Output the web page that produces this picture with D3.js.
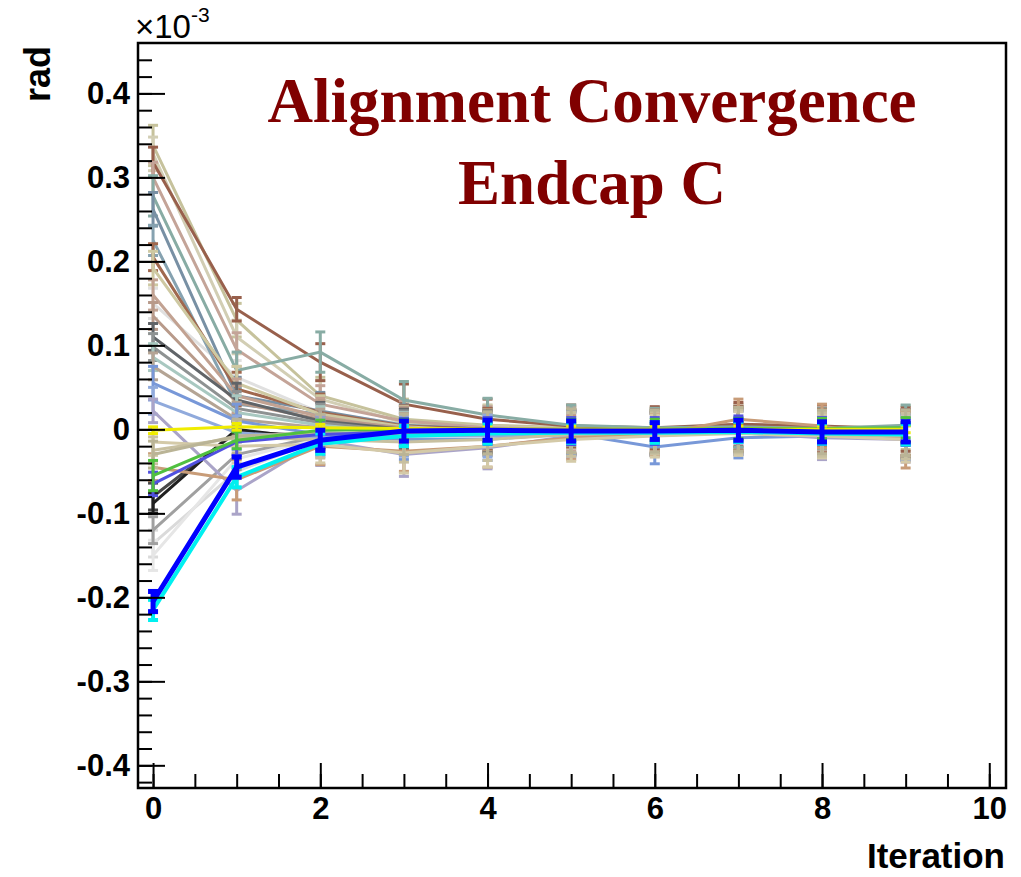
<!DOCTYPE html>
<html lang="en">
<head>
<meta charset="utf-8">
<title>Alignment Convergence Endcap C</title>
<script src="https://d3js.org/d3.v7.min.js"></script>
<style>
  body { margin: 0; background: #fff; }
  svg { display: block; }
</style>
</head>
<body>
<script>
// iterations on the x axis
var iterations = [0, 1, 2, 3, 4, 5, 6, 7, 8, 9];

// tick labels
var xMajorTicks = [0, 2, 4, 6, 8, 10];
var yMajorTicks = [-0.4, -0.3, -0.2, -0.1, 0, 0.1, 0.2, 0.3, 0.4];

// one colour per module, drawn back to front (values in units of 1e-3 rad)
var lineColors = [
  "#484848", "#202020",
  "#e0e0e0", "#dadada", "#e6e6e6", "#a0a0a0",
  "#c6c29c", "#d2ceb4", "#98604c", "#c4a498",
  "#88aca4", "#7890a4", "#86a2b0", "#a0684e",
  "#cec9a2", "#c2a292", "#b89a8a", "#606468",
  "#8e9292", "#a8c8c0", "#b4a494", "#7898d8",
  "#90aadc", "#aaa4c8", "#c89c78", "#d4caa8",
  "#c8c0a0", "#bab496",
  "#5050e0", "#50c040", "#f0ec00", "#00f0f0",
  "#0000ff"
];

var lineValues = [
  [-0.080, -0.003, -0.008, -0.004, -0.003, -0.002, -0.003, -0.001, -0.003, -0.004],
  [-0.088, 0.000, -0.012, -0.006, -0.004, -0.003, -0.003, -0.002, -0.004, -0.005],
  [0.150, 0.062, 0.020, 0.006, 0.000, -0.002, -0.003, 0.000, -0.002, -0.004],
  [-0.136, -0.050, -0.012, -0.006, -0.004, -0.003, -0.004, -0.002, -0.004, -0.006],
  [-0.150, -0.035, -0.010, -0.005, -0.004, -0.002, -0.003, -0.001, -0.003, -0.004],
  [-0.120, -0.030, -0.008, -0.004, -0.003, -0.003, -0.004, -0.002, -0.004, -0.005],
  [0.338, 0.130, 0.040, 0.012, 0.005, 0.002, 0.001, 0.004, 0.003, 0.002],
  [0.328, 0.110, 0.036, 0.008, 0.003, 0.001, 0.000, 0.003, 0.001, -0.002],
  [0.318, 0.143, 0.080, 0.030, 0.012, 0.004, 0.002, 0.006, 0.004, 0.000],
  [0.300, 0.095, 0.030, 0.010, 0.002, 0.000, -0.002, 0.002, 0.000, -0.004],
  [0.278, 0.070, 0.092, 0.035, 0.017, 0.005, 0.002, 0.003, 0.001, 0.005],
  [0.262, 0.040, 0.022, 0.005, 0.000, -0.002, -0.003, 0.000, -0.004, -0.005],
  [0.225, 0.030, 0.018, 0.004, -0.002, -0.004, -0.004, -0.002, -0.006, -0.008],
  [0.205, 0.048, 0.020, 0.004, 0.000, -0.003, -0.002, 0.001, -0.002, -0.004],
  [0.192, 0.055, 0.018, 0.003, -0.002, -0.002, -0.004, 0.000, -0.005, -0.006],
  [0.160, 0.040, 0.015, 0.000, -0.004, -0.003, -0.005, -0.001, -0.004, -0.006],
  [0.135, 0.032, 0.012, 0.002, -0.003, -0.004, -0.006, -0.002, -0.006, -0.008],
  [0.110, 0.035, 0.010, 0.000, -0.003, -0.004, -0.005, -0.002, -0.005, -0.008],
  [0.098, 0.025, 0.008, -0.002, -0.005, -0.005, -0.006, -0.004, -0.007, -0.010],
  [0.086, 0.020, 0.005, -0.004, -0.006, -0.006, -0.007, -0.004, -0.008, -0.010],
  [0.075, 0.012, 0.002, -0.005, -0.006, -0.005, -0.006, -0.003, -0.006, -0.009],
  [0.055, 0.010, -0.006, -0.012, -0.012, -0.005, -0.021, -0.010, -0.008, -0.010],
  [0.034, -0.004, -0.010, -0.008, -0.008, -0.006, -0.006, -0.004, -0.008, -0.010],
  [0.022, -0.073, -0.013, -0.030, -0.022, -0.008, -0.006, -0.004, -0.010, -0.012],
  [-0.045, -0.060, -0.020, -0.026, -0.020, -0.010, -0.006, 0.012, 0.004, -0.012],
  [-0.015, -0.020, -0.018, -0.028, -0.020, -0.012, -0.008, -0.005, -0.008, -0.012],
  [-0.025, -0.010, -0.012, -0.015, -0.012, -0.006, -0.004, -0.002, -0.006, -0.008],
  [-0.030, -0.008, -0.004, -0.006, -0.004, -0.002, -0.002, 0.000, -0.003, -0.004],
  [-0.065, -0.015, -0.006, -0.003, -0.002, -0.002, -0.002, 0.000, -0.002, -0.003],
  [-0.055, -0.013, -0.001, 0.000, 0.000, 0.000, 0.000, 0.001, 0.001, 0.002],
  [-0.001, 0.003, 0.002, 0.001, 0.000, 0.000, 0.000, 0.000, 0.000, 0.000],
  [-0.215, -0.057, -0.017, -0.008, -0.005, -0.004, -0.004, -0.003, -0.005, -0.006],
  [-0.205, -0.045, -0.013, -0.002, -0.001, -0.002, -0.002, -0.001, -0.003, -0.003]
];

var lineErrors = [
  [0.016, 0.012, 0.014, 0.012, 0.012, 0.012, 0.012, 0.012, 0.012, 0.012],
  [0.012, 0.010, 0.012, 0.010, 0.010, 0.010, 0.010, 0.010, 0.010, 0.010],
  [0.018, 0.020, 0.022, 0.024, 0.025, 0.026, 0.025, 0.026, 0.025, 0.027],
  [0.016, 0.020, 0.022, 0.025, 0.025, 0.027, 0.026, 0.026, 0.026, 0.028],
  [0.018, 0.020, 0.022, 0.024, 0.025, 0.026, 0.025, 0.025, 0.026, 0.027],
  [0.016, 0.018, 0.022, 0.024, 0.025, 0.026, 0.025, 0.026, 0.026, 0.027],
  [0.024, 0.020, 0.022, 0.024, 0.024, 0.025, 0.025, 0.026, 0.025, 0.026],
  [0.020, 0.020, 0.022, 0.024, 0.025, 0.025, 0.025, 0.025, 0.025, 0.026],
  [0.018, 0.014, 0.022, 0.024, 0.024, 0.025, 0.025, 0.026, 0.025, 0.026],
  [0.018, 0.020, 0.022, 0.024, 0.025, 0.026, 0.025, 0.026, 0.026, 0.027],
  [0.024, 0.022, 0.024, 0.022, 0.020, 0.024, 0.023, 0.024, 0.024, 0.024],
  [0.020, 0.022, 0.022, 0.024, 0.025, 0.026, 0.026, 0.026, 0.026, 0.028],
  [0.018, 0.020, 0.022, 0.024, 0.025, 0.026, 0.025, 0.026, 0.026, 0.027],
  [0.016, 0.020, 0.022, 0.024, 0.025, 0.026, 0.025, 0.026, 0.026, 0.027],
  [0.020, 0.020, 0.022, 0.024, 0.025, 0.026, 0.025, 0.026, 0.026, 0.027],
  [0.018, 0.020, 0.022, 0.024, 0.025, 0.026, 0.025, 0.026, 0.026, 0.027],
  [0.016, 0.020, 0.022, 0.024, 0.025, 0.026, 0.025, 0.026, 0.026, 0.027],
  [0.016, 0.020, 0.022, 0.024, 0.025, 0.026, 0.025, 0.026, 0.026, 0.027],
  [0.016, 0.020, 0.022, 0.024, 0.025, 0.026, 0.025, 0.026, 0.026, 0.027],
  [0.016, 0.020, 0.022, 0.024, 0.025, 0.026, 0.025, 0.026, 0.026, 0.027],
  [0.016, 0.020, 0.022, 0.024, 0.025, 0.026, 0.025, 0.026, 0.026, 0.027],
  [0.020, 0.020, 0.022, 0.024, 0.025, 0.026, 0.020, 0.024, 0.026, 0.027],
  [0.016, 0.020, 0.022, 0.024, 0.025, 0.026, 0.025, 0.026, 0.026, 0.027],
  [0.014, 0.028, 0.030, 0.026, 0.025, 0.026, 0.025, 0.026, 0.026, 0.027],
  [0.016, 0.024, 0.022, 0.024, 0.025, 0.026, 0.025, 0.024, 0.026, 0.034],
  [0.016, 0.020, 0.022, 0.024, 0.025, 0.026, 0.025, 0.026, 0.026, 0.027],
  [0.016, 0.020, 0.022, 0.024, 0.025, 0.026, 0.025, 0.026, 0.026, 0.027],
  [0.016, 0.020, 0.022, 0.024, 0.025, 0.026, 0.025, 0.026, 0.026, 0.027],
  [0.014, 0.016, 0.016, 0.016, 0.016, 0.016, 0.016, 0.016, 0.016, 0.016],
  [0.018, 0.010, 0.012, 0.012, 0.012, 0.012, 0.012, 0.012, 0.012, 0.012],
  [0.004, 0.004, 0.004, 0.004, 0.004, 0.004, 0.004, 0.004, 0.004, 0.004],
  [0.012, 0.012, 0.012, 0.012, 0.012, 0.012, 0.012, 0.012, 0.012, 0.012],
  [0.012, 0.012, 0.012, 0.012, 0.012, 0.012, 0.010, 0.012, 0.012, 0.012]
];

var totalWidth = 1021, totalHeight = 877;
var frame = {left: 138, top: 43, right: 1006, bottom: 788};

var xScale = d3.scaleLinear().domain([-0.18, 10.2]).range([frame.left, frame.right]);
var yScale = d3.scaleLinear().domain([-0.427, 0.46]).range([frame.bottom, frame.top]);

var svg = d3.select("body").append("svg")
  .attr("width", totalWidth)
  .attr("height", totalHeight);

svg.append("rect").attr("width", totalWidth).attr("height", totalHeight).attr("fill", "#fff");

svg.append("clipPath").attr("id", "plotclip")
  .append("rect")
  .attr("x", frame.left).attr("y", frame.top)
  .attr("width", frame.right - frame.left)
  .attr("height", frame.bottom - frame.top);

var plot = svg.append("g").attr("clip-path", "url(#plotclip)");

var line = d3.line()
  .x(function(d, i){ return xScale(iterations[i]); })
  .y(function(d){ return yScale(d); });

lineValues.forEach(function(vals, s){
  var col = lineColors[s];
  var lw = 3;
  if (col == "#0000ff") lw = 5;
  else if (col == "#00f0f0") lw = 4;
  var g = plot.append("g").attr("stroke", col).attr("fill", "none").attr("stroke-width", lw);
  g.append("path").attr("d", line(vals));
  vals.forEach(function(v, i){
    var e = lineErrors[s][i];
    var cx = xScale(iterations[i]);
    var y1 = yScale(v - e), y2 = yScale(v + e);
    g.append("line").attr("x1", cx).attr("x2", cx).attr("y1", y1).attr("y2", y2);
    g.append("line").attr("x1", cx - 5).attr("x2", cx + 5).attr("y1", y1).attr("y2", y1);
    g.append("line").attr("x1", cx - 5).attr("x2", cx + 5).attr("y1", y2).attr("y2", y2);
  });
});

// axes, ticks pointing into the frame like ROOT
var yMinor = d3.range(-42, 46, 2).map(function(d){ return d / 100; });
var xMinor = d3.range(0, 10.01, 0.5);

var yAxisMinor = d3.axisLeft(yScale).tickValues(yMinor).tickSizeInner(-14).tickSizeOuter(0).tickFormat("");
var yAxis = d3.axisLeft(yScale).tickValues(yMajorTicks).tickSizeInner(-27).tickSizeOuter(0).tickPadding(8)
  .tickFormat(function(d){ return d == 0 ? "0" : d.toFixed(1); });
var xAxisMinor = d3.axisBottom(xScale).tickValues(xMinor).tickSizeInner(-14).tickSizeOuter(0).tickFormat("");
var xAxis = d3.axisBottom(xScale).tickValues(xMajorTicks).tickSizeInner(-25).tickSizeOuter(0).tickPadding(9)
  .tickFormat(d3.format("d"));

function styleAxis(g){
  g.select(".domain").remove();
  g.selectAll(".tick line").attr("stroke", "#000").attr("stroke-width", 2);
  g.selectAll(".tick text")
    .attr("fill", "#000")
    .style("font-family", "'Liberation Sans', Arial, sans-serif")
    .style("font-weight", "bold")
    .style("font-size", "31px");
}

svg.append("g").attr("transform", "translate(" + frame.left + ",0)").call(yAxisMinor).call(styleAxis);
svg.append("g").attr("transform", "translate(" + frame.left + ",0)").call(yAxis).call(styleAxis);
svg.append("g").attr("transform", "translate(0," + frame.bottom + ")").call(xAxisMinor).call(styleAxis);
svg.append("g").attr("transform", "translate(0," + frame.bottom + ")").call(xAxis).call(styleAxis);

svg.append("rect")
  .attr("x", frame.left).attr("y", frame.top)
  .attr("width", frame.right - frame.left)
  .attr("height", frame.bottom - frame.top)
  .attr("fill", "none").attr("stroke", "#000").attr("stroke-width", 2.5);

// exponent label
var expo = svg.append("text")
  .attr("x", frame.left - 3).attr("y", 38)
  .style("font-family", "'Liberation Sans', Arial, sans-serif")
  .style("font-size", "33px");
expo.append("tspan").text("\u00d710");
expo.append("tspan").attr("dy", -16).style("font-size", "21px").text("-3");

// axis titles
svg.append("text")
  .attr("transform", "translate(50,46) rotate(-90)")
  .attr("text-anchor", "end")
  .style("font-family", "'Liberation Sans', Arial, sans-serif")
  .style("font-weight", "bold")
  .style("font-size", "36px")
  .text("rad");

svg.append("text")
  .attr("x", 1005).attr("y", 868)
  .attr("text-anchor", "end")
  .style("font-family", "'Liberation Sans', Arial, sans-serif")
  .style("font-weight", "bold")
  .style("font-size", "35px")
  .text("Iteration");

// title inside the frame
var titleLines = ["Alignment Convergence", "Endcap C"];
svg.selectAll(".title").data(titleLines).enter().append("text")
  .attr("class", "title")
  .attr("x", 592)
  .attr("y", function(d, i){ return 122 + i * 82; })
  .attr("text-anchor", "middle")
  .attr("fill", "#800000")
  .style("font-family", "'Liberation Serif', 'Times New Roman', serif")
  .style("font-weight", "bold")
  .style("font-size", "63px")
  .text(function(d){ return d; });
</script>
</body>
</html>
